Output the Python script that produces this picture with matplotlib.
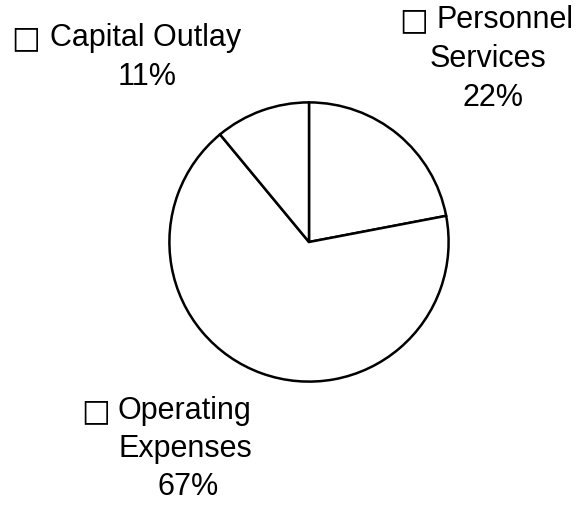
import matplotlib
matplotlib.use("Agg")
from matplotlib import pyplot as plt

categories = ['Personnel Services', 'Operating Expenses', 'Capital Outlay']
shares = [22, 67, 11]

W, H = 585, 509
fig = plt.figure(figsize=(W / 100, H / 100), dpi=100)
fig.patch.set_facecolor('white')

# pie centre and radius in pixels
cx, cy, r = 309, 242, 141
ax = fig.add_axes([(cx - r) / W, (H - cy - r) / H, 2 * r / W, 2 * r / H])
ax.pie(shares,
       colors=['white'] * len(shares),
       startangle=90,
       counterclock=False,
       wedgeprops=dict(edgecolor='black', linewidth=1.8))
ax.set_xlim(-1.01, 1.01)
ax.set_ylim(-1.01, 1.01)
ax.set_aspect('equal')
ax.axis('off')

fam = ['Liberation Sans', 'DejaVu Sans']
fs = 22


def put(x, y, s):
    fig.text(x / W, 1 - y / H, s, ha='center', va='center',
             fontsize=fs, family=fam, color='black')


def key(x, y):
    fig.text(x / W, 1 - y / H, '\u25a1', ha='center', va='center',
             fontsize=22, family='DejaVu Sans', fontweight='bold',
             color='black')


# Capital Outlay
key(26, 39)
put(146, 38, 'Capital Outlay')
put(147, 77, '%d%%' % shares[2])
# Personnel Services
key(414, 21)
put(505, 20, 'Personnel')
put(488, 59, 'Services')
put(493, 98, '%d%%' % shares[0])
# Operating Expenses
key(96, 412)
put(184, 411, 'Operating')
put(185, 449, 'Expenses')
put(188, 487, '%d%%' % shares[1])

fig.savefig('out.png', dpi=100, facecolor='white')
